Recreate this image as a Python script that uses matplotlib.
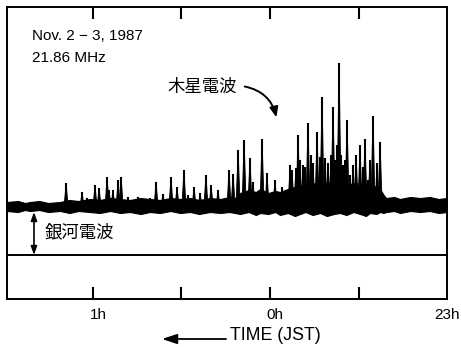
import matplotlib
matplotlib.use("Agg")
import matplotlib.pyplot as plt
from matplotlib.patches import FancyArrowPatch

plt.rcParams['font.family'] = ['Liberation Sans', 'Noto Sans CJK JP', 'DejaVu Sans']

# Time axis: hours relative to 0h JST (23h = -1). Axis runs right-to-left.
band_time = [1.482, 1.420, 1.380, 1.352, 1.300, 1.250, 1.183, 1.130, 1.080, 1.014,
             0.960, 0.900, 0.845, 0.790, 0.730, 0.676, 0.620, 0.560, 0.507, 0.450,
             0.400, 0.338, 0.280, 0.230, 0.197, 0.169, 0.120, 0.080, 0.056, 0.010,
             -0.030, -0.056, -0.100, -0.140, -0.169, -0.200, -0.240, -0.282, -0.320,
             -0.360, -0.394, -0.430, -0.470, -0.507, -0.540, -0.563, -0.600, -0.620,
             -0.640, -0.654, -0.700, -0.732, -0.790, -0.845, -0.900, -0.950, -0.997]
band_low = [44, 43, 45, 44, 45, 43, 44, 42, 44, 43,
            42, 44, 42, 43, 41, 43, 42, 44, 42, 43,
            41, 43, 42, 43, 42, 41, 43, 40, 42, 41,
            43, 40, 42, 39, 41, 43, 40, 42, 39,
            41, 42, 40, 43, 41, 39, 42, 41, 43,
            42, 43, 44, 42, 44, 43, 44, 42, 43]
band_high = [53, 54, 52, 53, 54, 52, 53, 55, 54, 56,
             55, 57, 56, 55, 57, 56, 55, 57, 56, 57,
             55, 57, 56, 58, 57, 62, 65, 63, 66, 62,
             64, 63, 66, 68, 70, 68, 72, 70, 73,
             71, 74, 70, 72, 69, 72, 70, 68, 66,
             60, 57, 58, 56, 58, 57, 58, 56, 57]

spike_time = [1.149, 1.059, 1.031, 0.986, 0.963, 0.918, 0.907, 0.885, 0.856, 0.839,
              0.800, 0.744, 0.676, 0.642, 0.603, 0.558, 0.524, 0.485, 0.462, 0.428,
              0.394, 0.361, 0.332, 0.293, 0.231, 0.208, 0.180, 0.146, 0.113, 0.096,
              0.045, 0.017, -0.028, -0.068, -0.090, -0.124, -0.146, -0.158, -0.186,
              -0.214, -0.242, -0.265, -0.293, -0.310, -0.355, -0.366, -0.389, -0.411,
              -0.434, -0.451, -0.490, -0.507, -0.535, -0.552, -0.580, -0.620, -0.637,
              -0.113, -0.169, -0.197, -0.231, -0.282, -0.327, -0.344, -0.377, -0.400,
              -0.422, -0.468, -0.485, -0.524, -0.563, -0.603]
spike_peak = [72, 63, 57, 70, 67, 78, 65, 65, 75, 78,
              58, 58, 57, 73, 61, 78, 68, 85, 60, 68,
              62, 80, 70, 65, 85, 81, 105, 115, 97, 73,
              116, 82, 75, 68, 62, 85, 87, 120, 90,
              132, 92, 123, 158, 97, 148, 95, 192, 90,
              135, 80, 72, 110, 116, 75, 139, 113, 60,
              90, 95, 88, 100, 98, 92, 100, 110, 100,
              95, 90, 100, 88, 95, 92]
spike_base = 47

tick_pos = [1.0, 0.5, 0.0, -0.5]
label_pos = [0.966, -0.028, -0.997]
label_text = ['1h', '0h', '23h']

fig = plt.figure(figsize=(4.61, 3.47), dpi=100)
ax = fig.add_axes([7/461, 48/347, 440/461, 292/347])
ax.set_xlim(1.482, -0.997)
ax.set_ylim(-44, 248)

ax.fill_between(band_time, band_low, band_high, color='black', lw=0.8)
w = 0.012
for t, p in zip(spike_time, spike_peak):
    ax.fill([t + w, t, t - w], [spike_base, p, spike_base], color='black', lw=0.6)
ax.vlines(spike_time, spike_base, spike_peak, color='black', lw=1.5)

ax.axhline(0, color='black', lw=1.4)

for s in ax.spines.values():
    s.set_linewidth(1.4)
ax.set_xticks([])
ax.set_yticks([])
tr = ax.get_xaxis_transform()
ax.vlines(tick_pos, 0, 12/292, transform=tr, color='black', lw=1.5)
ax.vlines(tick_pos, 1 - 12/292, 1, transform=tr, color='black', lw=1.5)
for x, s in zip(label_pos, label_text):
    ax.text(x, -16/292, s, transform=tr, fontsize=11, ha='center', va='center',
            clip_on=False)

ax.text(0.057, 0.90, 'Nov. 2 − 3, 1987', transform=ax.transAxes, fontsize=11,
        ha='left', va='center')
ax.text(0.057, 0.825, '21.86 MHz', transform=ax.transAxes, fontsize=11,
        ha='left', va='center')

ax.text(0.575, 168, '木星電波', fontsize=12.5, ha='left', va='center',
        family=['Noto Sans CJK JP'])
ax.annotate('', xy=(-0.039, 135), xytext=(0.158, 169),
            arrowprops=dict(arrowstyle='-|>,head_length=0.6,head_width=0.25',
                            connectionstyle='arc3,rad=-0.35', color='black', lw=1.4))

ax.text(1.268, 23, '銀河電波', fontsize=12.5, ha='left', va='center',
        family=['Noto Sans CJK JP'])
ax.annotate('', xy=(1.330, 0), xytext=(1.330, 43),
            arrowprops=dict(arrowstyle='<|-|>,head_length=0.5,head_width=0.18',
                            color='black', lw=1.2, shrinkA=0, shrinkB=0))

fig.text(230/461, 1 - 335/347, 'TIME (JST)', fontsize=12.8, ha='left', va='center')
fig.add_artist(FancyArrowPatch(
    (226/461, 1 - 339/347), (162/461, 1 - 339/347), transform=fig.transFigure,
    arrowstyle='-|>,head_length=0.9,head_width=0.3', mutation_scale=10,
    color='black', lw=1.3, shrinkA=0, shrinkB=0))

fig.savefig('out.png', dpi=100)
